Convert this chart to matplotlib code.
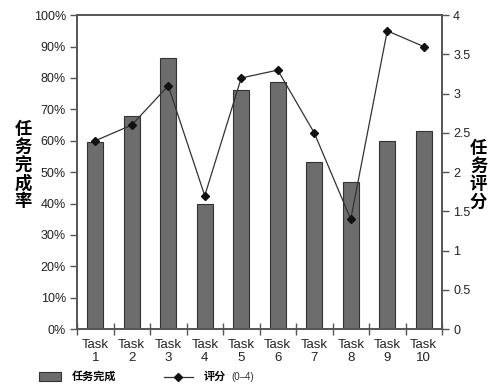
import matplotlib
matplotlib.use("Agg")
import matplotlib.pyplot as plt
import numpy as np
from matplotlib.patches import Rectangle
from matplotlib.lines import Line2D

plt.rcParams['font.family'] = ['Liberation Sans', 'Noto Sans CJK SC', 'DejaVu Sans']

tasks = ["Task\n1", "Task\n2", "Task\n3", "Task\n4", "Task\n5",
         "Task\n6", "Task\n7", "Task\n8", "Task\n9", "Task\n10"]
completion = [59.6, 68.0, 86.5, 40.0, 76.3, 78.8, 53.3, 46.7, 60.0, 63.0]
rating = [2.4, 2.6, 3.1, 1.7, 3.2, 3.3, 2.5, 1.4, 3.8, 3.6]
left_ticks = [0, 10, 20, 30, 40, 50, 60, 70, 80, 90, 100]
right_ticks = [0, 0.5, 1, 1.5, 2, 2.5, 3, 3.5, 4]
right_labels = ["0", "0.5", "1", "1.5", "2", "2.5", "3", "3.5", "4"]

fig = plt.figure(figsize=(5, 3.89), dpi=100)
ax = fig.add_axes([0.154, 0.154, 0.73, 0.807])
x = np.arange(len(tasks))
frame = "#555555"
ax.bar(x, completion, width=0.44, color="#6d6d6d", edgecolor="#333333", linewidth=0.8, zorder=2)
ax.set_xlim(-0.5, len(tasks) - 0.5)
ax.set_ylim(0, 100)
ax.set_yticks(left_ticks)
ax.set_yticklabels([f"{v}%" for v in left_ticks], fontsize=9, color="#222222")
ax.set_xticks(x)
ax.set_xticklabels(tasks, fontsize=9.5, color="#222222", linespacing=1.15)
ax.tick_params(axis='x', length=0, pad=7)
ax.set_xticks(np.arange(-0.5, len(tasks) + 0.5, 1), minor=True)
ax.tick_params(axis='x', which='minor', direction='inout', length=8, color=frame, width=1)
ax.tick_params(axis='y', direction='out', length=5, color=frame, width=1, pad=3)
for s in ax.spines.values():
    s.set_color(frame)
    s.set_linewidth(1.2)

ax2 = ax.twinx()
ax2.plot(x, rating, color="#333333", linewidth=0.9, marker="D", markersize=4.5,
         markerfacecolor="#111111", markeredgecolor="#111111", zorder=3)
ax2.set_ylim(0, 4)
ax2.set_yticks(right_ticks)
ax2.set_yticklabels(right_labels, fontsize=9, color="#222222")
ax2.tick_params(axis='y', direction='out', length=5, color=frame, width=1, pad=3)
for s in ax2.spines.values():
    s.set_color(frame)
    s.set_linewidth(1.2)

cjk = ['Noto Sans CJK SC', 'DejaVu Sans']
fig.text(0.046, 0.575, "任\n务\n完\n成\n率", family=cjk, fontsize=12.5, fontweight='bold',
         ha='center', va='center', linespacing=1.0)
fig.text(0.957, 0.55, "任\n务\n评\n分", family=cjk, fontsize=12.5, fontweight='bold',
         ha='center', va='center', linespacing=1.0)

# legend
fig.patches.append(Rectangle((0.078, 0.021), 0.043, 0.022, transform=fig.transFigure,
                             facecolor="#6d6d6d", edgecolor="#333333", linewidth=0.8))
fig.text(0.143, 0.032, "任务完成", family=cjk, fontsize=8, fontweight='bold', va='center')
fig.lines.append(Line2D([0.327, 0.385], [0.032, 0.032], transform=fig.transFigure,
                        color="#333333", linewidth=0.9, marker=None))
fig.lines.append(Line2D([0.356], [0.032], transform=fig.transFigure, color="#111111",
                        marker="D", markersize=4.5))
fig.text(0.408, 0.032, "评分", family=cjk, fontsize=8, fontweight='bold', va='center')
fig.text(0.463, 0.030, "(0–4)", fontsize=7, va='center', color="#333333")

fig.savefig("out.png", dpi=100)
